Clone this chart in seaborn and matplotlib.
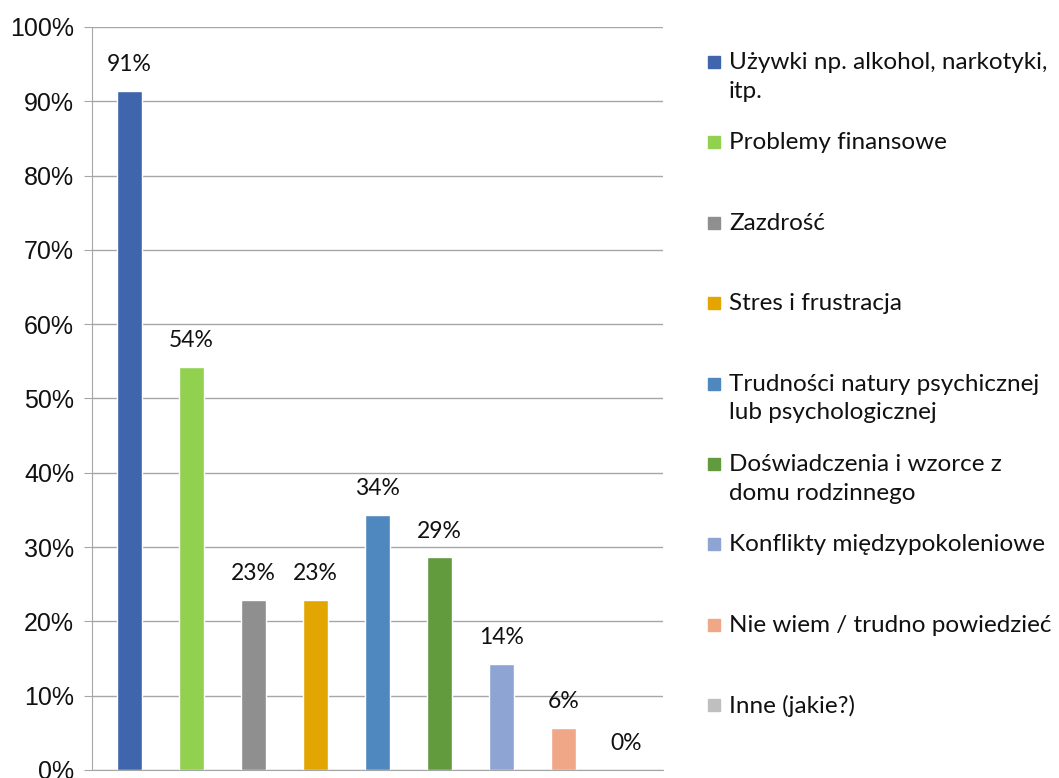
import numpy as np
import pandas as pd
import matplotlib
matplotlib.use("Agg")
import matplotlib.pyplot as plt
import matplotlib.patches as mpatches
import seaborn as sns

categories = [
    "Używki np. alkohol, narkotyki,\nitp.",
    "Problemy finansowe",
    "Zazdrość",
    "Stres i frustracja",
    "Trudności natury psychicznej\nlub psychologicznej",
    "Doświadczenia i wzorce z\ndomu rodzinnego",
    "Konflikty międzypokoleniowe",
    "Nie wiem / trudno powiedzieć",
    "Inne (jakie?)",
]
values = [91.4, 54.3, 22.9, 22.9, 34.3, 28.6, 14.3, 5.7, 0.0]
labels = ["91%", "54%", "23%", "23%", "34%", "29%", "14%", "6%", "0%"]
colors = ["#3F65AC", "#92D050", "#8F8F8F", "#E3A600", "#4F88BE",
          "#629A3E", "#8EA4D3", "#F0A788", "#BFBFBF"]
yticks = [0, 10, 20, 30, 40, 50, 60, 70, 80, 90, 100]

sns.set_style("white")
plt.rcParams['font.family'] = ['Liberation Sans', 'DejaVu Sans']

df = pd.DataFrame({"cat": categories, "val": values})

fig = plt.figure(figsize=(10.59, 7.78), dpi=100)
ax = fig.add_axes([0.087, 0.0103, 0.539, 0.955])

sns.barplot(data=df, x="cat", y="val", hue="cat", palette=colors,
            width=0.41, legend=False, ax=ax, saturation=1)

ax.set_ylim(0, 100)
ax.set_xlim(-0.6, len(categories) - 0.4)
ax.set_yticks(yticks)
ax.set_yticklabels([f"{t}%" for t in yticks], fontsize=18, color="#111111")
ax.set_xticks([])
ax.set_xlabel("")
ax.set_ylabel("")
ax.yaxis.grid(True, color="#A6A6A6", linewidth=1.0)
ax.set_axisbelow(True)
for side in ["top", "right"]:
    ax.spines[side].set_visible(False)
ax.spines["left"].set_color("#A6A6A6")
ax.spines["bottom"].set_color("#A6A6A6")
ax.tick_params(axis="y", length=6, color="#A6A6A6", left=True, pad=7)

# value labels above the bars
for patch, lab in zip(ax.patches, labels):
    x = patch.get_x() + patch.get_width() / 2
    ax.annotate(lab, (x, patch.get_height()), xytext=(0, 19), textcoords="offset points",
                ha="center", va="center", fontsize=16.5, family=["Lato", "DejaVu Sans"],
                color="#111111")

# legend on the right, entries evenly spaced like the original
y0 = 1 - 62 / 778
step = 80.4 / 778
for i, (cat, col) in enumerate(zip(categories, colors)):
    y = y0 - i * step
    fig.patches.append(mpatches.Rectangle((708 / 1059, y - 6 / 778), 12 / 1059, 12 / 778,
                                          transform=fig.transFigure, color=col, figure=fig))
    fig.text(729 / 1059, y + 10 / 778, cat, ha="left", va="top", fontsize=17.5,
             family=["Lato", "DejaVu Sans"], color="#111111", linespacing=1.45)

plt.savefig("out.png", dpi=100)
plt.close()
